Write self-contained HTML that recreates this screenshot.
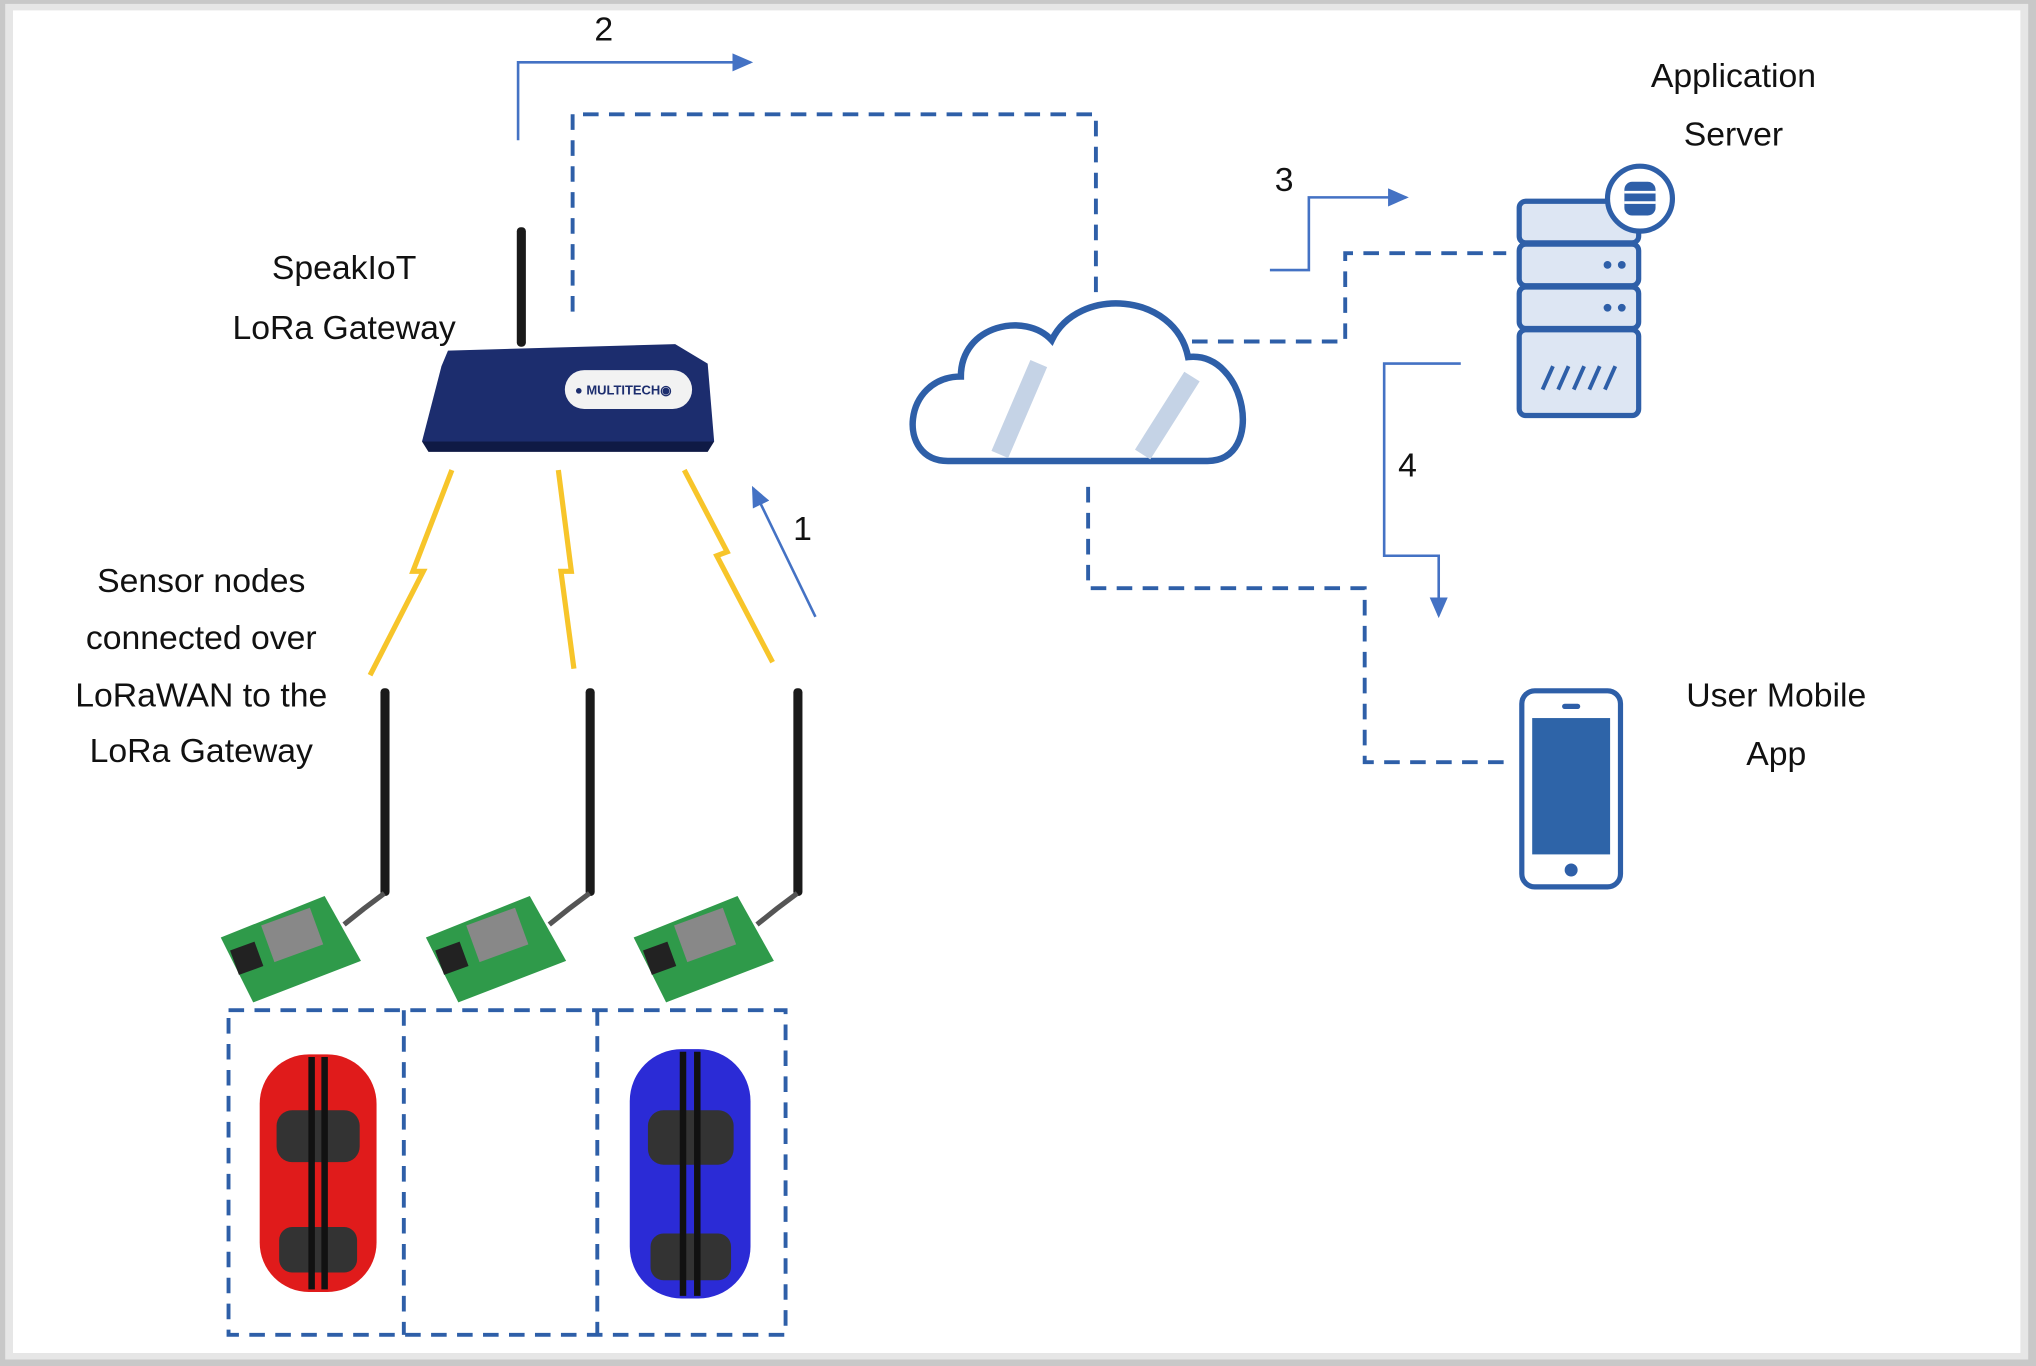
<!DOCTYPE html>
<html><head><meta charset="utf-8"><style>
html,body{margin:0;padding:0;background:#fff;}
svg{display:block}
text{font-family:"Liberation Sans",sans-serif;fill:#111;}
</style></head><body>
<svg width="2036" height="1366" viewBox="0 0 1568 1052" xmlns="http://www.w3.org/2000/svg">
<defs>
<marker id="ah2" markerWidth="16" markerHeight="14" refX="14" refY="7" orient="auto" markerUnits="userSpaceOnUse"><path d="M0,0 L16,7 L0,14 z" fill="#4472c4"/></marker>
</defs>
<rect width="1568" height="1052" fill="#c8c8c8"/>
<rect x="4" y="3" width="1558" height="1044" fill="#e6e6e6"/>
<rect x="10" y="8" width="1546" height="1034" fill="#fff"/>

<g fill="none" stroke="#2e5fa8" stroke-width="3" stroke-dasharray="12,8">
<path d="M441,240 V88 H844 V230"/>
<path d="M918,263 H1036 V195 H1160"/>
<path d="M838,375 V453 H1051 V587 H1163"/>
<rect x="176" y="778" width="429" height="250"/>
<path d="M311,778 V1028 M460,778 V1028"/>
</g>

<g fill="none" stroke="#4472c4" stroke-width="2">
<path d="M399,108 V48 H578" marker-end="url(#ah2)"/>
<path d="M978,208 H1008 V152 H1083" marker-end="url(#ah2)"/>
<path d="M1125,280 H1066 V428 H1108 V474" marker-end="url(#ah2)"/>
<path d="M628,475 L580,376" marker-end="url(#ah2)"/>
</g>

<g font-size="26" text-anchor="middle">
<text x="465" y="31">2</text>
<text x="989" y="147">3</text>
<text x="1084" y="367">4</text>
<text x="618" y="416">1</text>
<text x="265" y="215">SpeakIoT</text>
<text x="265" y="261">LoRa Gateway</text>
<text x="1335" y="67">Application</text>
<text x="1335" y="112">Server</text>
<text x="1368" y="544">User Mobile</text>
<text x="1368" y="589">App</text>
<text x="155" y="456">Sensor nodes</text>
<text x="155" y="500">connected over</text>
<text x="155" y="544">LoRaWAN to the</text>
<text x="155" y="587">LoRa Gateway</text>
</g>

<rect x="398" y="175" width="7" height="92" rx="3" fill="#1a1a1a"/>
<path d="M345,270 L520,265 L545,280 L550,340 L325,340 L340,282 z" fill="#1c2d6e"/>
<path d="M325,340 L550,340 L545,348 L330,348 z" fill="#0f1a45"/>
<rect x="435" y="285" width="98" height="30" rx="15" fill="#f2f2f2"/>
<text x="480" y="304" font-size="10" font-weight="bold" text-anchor="middle" style="fill:#1c2d6e">● MULTITECH◉</text>

<path d="M730,355 C690,355 695,290 740,290 C740,250 790,240 810,262 C830,220 905,225 915,275 C960,270 975,355 930,355 Z" fill="#fff" stroke="#2e5fa8" stroke-width="5"/>
<path d="M770,350 L800,280 M880,350 L918,290" stroke="#c5d3e6" stroke-width="14"/>

<g fill="#dde6f3" stroke="#2e5fa8" stroke-width="4">
<rect x="1170" y="155" width="92" height="32" rx="5"/>
<rect x="1170" y="188" width="92" height="32" rx="5"/>
<rect x="1170" y="221" width="92" height="32" rx="5"/>
<rect x="1170" y="254" width="92" height="66" rx="5"/>
</g>
<g fill="#2e5fa8"><circle cx="1249" cy="204" r="3"/><circle cx="1238" cy="204" r="3"/><circle cx="1249" cy="237" r="3"/><circle cx="1238" cy="237" r="3"/></g>
<path d="M1188,300 L1196,282 M1200,300 L1208,282 M1212,300 L1220,282 M1224,300 L1232,282 M1236,300 L1244,282" stroke="#2e5fa8" stroke-width="3"/>
<circle cx="1263" cy="153" r="25" fill="#fff" stroke="#2e5fa8" stroke-width="4"/>
<rect x="1251" y="140" width="24" height="26" rx="6" fill="#2e5fa8"/>
<path d="M1251,148 H1275 M1251,156 H1275" stroke="#fff" stroke-width="2"/>

<rect x="1172" y="532" width="76" height="151" rx="10" fill="#fff" stroke="#2e5fa8" stroke-width="4"/>
<rect x="1180" y="553" width="60" height="105" fill="#2e64a8"/>
<rect x="1203" y="542" width="14" height="4" rx="2" fill="#2e5fa8"/>
<circle cx="1210" cy="670" r="5" fill="#2e5fa8"/>

<g fill="none" stroke="#f7c52a" stroke-width="4">
<path d="M348,362 L318,440 L326,440 L285,520"/>
<path d="M430,362 L440,440 L432,440 L442,515"/>
<path d="M527,362 L560,425 L552,428 L595,510"/>
</g>

<g id="s">
<rect x="293" y="530" width="7" height="160" rx="3" fill="#1a1a1a"/>
<path d="M296,688 L280,700 L265,712" stroke="#555" stroke-width="4" fill="none"/>
<path d="M170,722 L250,690 L278,740 L195,772 Z" fill="#2f9a4a"/>
<rect x="205" y="705" width="40" height="30" fill="#888" transform="rotate(-20 225 720)"/>
<rect x="180" y="728" width="20" height="20" fill="#222" transform="rotate(-20 190 738)"/>
</g>
<use href="#s" transform="translate(158,0)"/>
<use href="#s" transform="translate(318,0)"/>

<g>
<rect x="200" y="812" width="90" height="183" rx="38" fill="#e01b1b"/>
<rect x="213" y="855" width="64" height="40" rx="12" fill="#333"/>
<rect x="215" y="945" width="60" height="35" rx="10" fill="#333"/>
<path d="M240,814 V993 M250,814 V993" stroke="#111" stroke-width="5"/>
</g>
<g>
<rect x="485" y="808" width="93" height="192" rx="40" fill="#2b2bd6"/>
<rect x="499" y="855" width="66" height="42" rx="12" fill="#333"/>
<rect x="501" y="950" width="62" height="36" rx="10" fill="#333"/>
<path d="M526,810 V998 M537,810 V998" stroke="#111" stroke-width="5"/>
</g>
</svg>
</body></html>
